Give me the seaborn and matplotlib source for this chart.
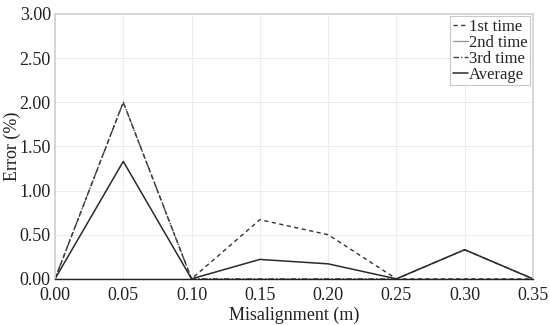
import numpy as np
import pandas as pd
import matplotlib
matplotlib.use("Agg")
import matplotlib.pyplot as plt
import seaborn as sns

# Data
misalignment = [0.00, 0.05, 0.10, 0.15, 0.20, 0.25, 0.30, 0.35]
first_time = [0.00, 2.00, 0.00, 0.67, 0.50, 0.00, 0.00, 0.00]
second_time = [0.00, 0.00, 0.00, 0.00, 0.00, 0.00, 0.00, 0.00]
third_time = [0.00, 2.00, 0.00, 0.00, 0.00, 0.00, 0.33, 0.00]
average = [0.00, 1.33, 0.00, 0.22, 0.17, 0.00, 0.33, 0.00]

sns.set_theme(style="whitegrid")
plt.rcParams["font.family"] = ["Liberation Serif", "DejaVu Serif"]

fig = plt.figure(figsize=(5.5, 3.25), dpi=100)
ax = fig.add_axes([0.1, 0.142, 0.869, 0.815])

df = pd.DataFrame({
    "x": misalignment,
    "1st time": first_time,
    "2nd time": second_time,
    "3rd time": third_time,
    "Average": average,
})

styles = {
    "1st time": dict(color="#333333", linestyle=(0, (3, 2.5)), lw=1.0),
    "2nd time": dict(color="#9a9a9a", linestyle="-", lw=1.0),
    "3rd time": dict(color="#444444", linestyle=(0, (4, 1.5, 1, 1.5)), lw=1.0),
    "Average": dict(color="#2a2a2a", linestyle="-", lw=1.1),
}
for name, st in styles.items():
    sns.lineplot(data=df, x="x", y=name, ax=ax, label=name, **st)

ax.set_xlim(0, 0.35)
ax.set_ylim(0, 3.0)
ax.set_xticks(misalignment)
ax.set_xticklabels([f"{v:.2f}" for v in misalignment])
ax.set_yticks(np.arange(0, 3.01, 0.5))
ax.set_yticklabels([f"{v:.2f}" for v in np.arange(0, 3.01, 0.5)])
ax.tick_params(labelsize=13, colors="#222222", length=0)
ax.tick_params(axis="y", pad=3)
ax.tick_params(axis="x", pad=6)
ax.set_xlabel("Misalignment (m)", fontsize=13, labelpad=2, color="#222222")
ax.set_ylabel("Error (%)", fontsize=13, labelpad=-1, color="#222222")

ax.grid(True, color="#ececec", lw=0.7)
for side in ["top", "right", "left"]:
    ax.spines[side].set_color("#d0d0d0")
    ax.spines[side].set_linewidth(1.2)
ax.spines["bottom"].set_color("#222222")
ax.spines["bottom"].set_linewidth(1.0)

leg = ax.legend(loc="upper right", fontsize=12, frameon=True, fancybox=False,
                borderaxespad=0.15, handlelength=0.9, handletextpad=0.1,
                borderpad=0.15, labelspacing=0.0)
leg.get_frame().set_edgecolor("#bbbbbb")
leg.get_frame().set_linewidth(0.8)

fig.savefig("out.png", dpi=100)
